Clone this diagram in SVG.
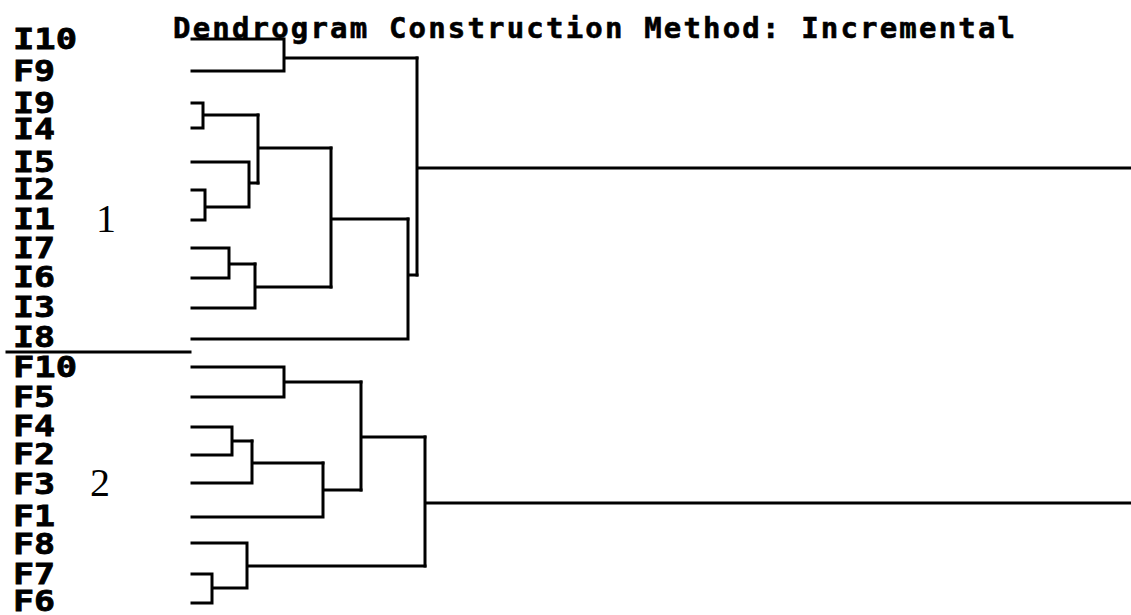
<svg xmlns="http://www.w3.org/2000/svg" width="1131" height="615" viewBox="0 0 1131 615">
<style>
.lbl{font-family:"DejaVu Sans Mono","Liberation Mono",monospace;font-weight:bold;font-size:29px;fill:#000;stroke:#000;stroke-width:0.8}
.ttl{font-family:"DejaVu Sans Mono","Liberation Mono",monospace;font-weight:bold;font-size:29px;fill:#000;stroke:#000;stroke-width:0.6}
.num{font-family:"Liberation Serif",serif;font-size:40px;fill:#000}
.ln{fill:none;stroke:#000;stroke-width:3;stroke-linecap:square;stroke-linejoin:miter}
</style>
<rect width="1131" height="615" fill="#fff"/>
<text class="ttl" x="173" y="38" textLength="842" lengthAdjust="spacing">Dendrogram Construction Method: Incremental</text>
<g id="leaf-I10"><text class="lbl" x="13" y="49" textLength="64" lengthAdjust="spacingAndGlyphs">I10</text></g>
<g id="leaf-F9"><text class="lbl" x="13" y="81" textLength="42" lengthAdjust="spacingAndGlyphs">F9</text></g>
<g id="leaf-I9"><text class="lbl" x="13" y="113" textLength="42" lengthAdjust="spacingAndGlyphs">I9</text></g>
<g id="leaf-I4"><text class="lbl" x="13" y="139" textLength="42" lengthAdjust="spacingAndGlyphs">I4</text></g>
<g id="leaf-I5"><text class="lbl" x="13" y="172" textLength="42" lengthAdjust="spacingAndGlyphs">I5</text></g>
<g id="leaf-I2"><text class="lbl" x="13" y="199" textLength="42" lengthAdjust="spacingAndGlyphs">I2</text></g>
<g id="leaf-I1"><text class="lbl" x="13" y="229" textLength="42" lengthAdjust="spacingAndGlyphs">I1</text></g>
<g id="leaf-I7"><text class="lbl" x="13" y="258" textLength="42" lengthAdjust="spacingAndGlyphs">I7</text></g>
<g id="leaf-I6"><text class="lbl" x="13" y="287" textLength="42" lengthAdjust="spacingAndGlyphs">I6</text></g>
<g id="leaf-I3"><text class="lbl" x="13" y="317" textLength="42" lengthAdjust="spacingAndGlyphs">I3</text></g>
<g id="leaf-I8"><text class="lbl" x="13" y="347" textLength="42" lengthAdjust="spacingAndGlyphs">I8</text></g>
<g id="leaf-F10"><text class="lbl" x="13" y="377" textLength="64" lengthAdjust="spacingAndGlyphs">F10</text></g>
<g id="leaf-F5"><text class="lbl" x="13" y="407" textLength="42" lengthAdjust="spacingAndGlyphs">F5</text></g>
<g id="leaf-F4"><text class="lbl" x="13" y="436" textLength="42" lengthAdjust="spacingAndGlyphs">F4</text></g>
<g id="leaf-F2"><text class="lbl" x="13" y="464" textLength="42" lengthAdjust="spacingAndGlyphs">F2</text></g>
<g id="leaf-F3"><text class="lbl" x="13" y="494" textLength="42" lengthAdjust="spacingAndGlyphs">F3</text></g>
<g id="leaf-F1"><text class="lbl" x="13" y="526" textLength="42" lengthAdjust="spacingAndGlyphs">F1</text></g>
<g id="leaf-F8"><text class="lbl" x="13" y="554" textLength="42" lengthAdjust="spacingAndGlyphs">F8</text></g>
<g id="leaf-F7"><text class="lbl" x="13" y="584" textLength="42" lengthAdjust="spacingAndGlyphs">F7</text></g>
<g id="leaf-F6"><text class="lbl" x="13" y="611" textLength="42" lengthAdjust="spacingAndGlyphs">F6</text></g>
<g id="group-1"><text class="num" x="96" y="232">1</text></g>
<g id="group-2"><text class="num" x="90" y="496">2</text></g>
<g id="connectors">
<path class="ln" d="M7 352H190"/>
<path class="ln" d="M192 39H284V71H192M284 58H417"/>
<path class="ln" d="M192 103H203V128H192M203 115H258"/>
<path class="ln" d="M192 162H249V207M192 190H205V220H192M205 207H249M249 183H258"/>
<path class="ln" d="M258 115V183M258 148H331"/>
<path class="ln" d="M192 248H229V278H192M229 264H255"/>
<path class="ln" d="M192 308H255V264M255 287H331"/>
<path class="ln" d="M331 148V287M331 219H408"/>
<path class="ln" d="M192 339H408V219M408 275H417"/>
<path class="ln" d="M417 58V275M417 168H1131"/>
<path class="ln" d="M192 367H284V397H192M284 382H361"/>
<path class="ln" d="M192 427H232V455H192M232 441H252"/>
<path class="ln" d="M192 483H252V441M252 463H323"/>
<path class="ln" d="M192 517H323V463M323 490H361"/>
<path class="ln" d="M361 382V490M361 437H425"/>
<path class="ln" d="M192 543H247V588M192 574H212V603H192M212 588H247M247 566H425"/>
<path class="ln" d="M425 437V566M425 503H1131"/>
</g>
</svg>
